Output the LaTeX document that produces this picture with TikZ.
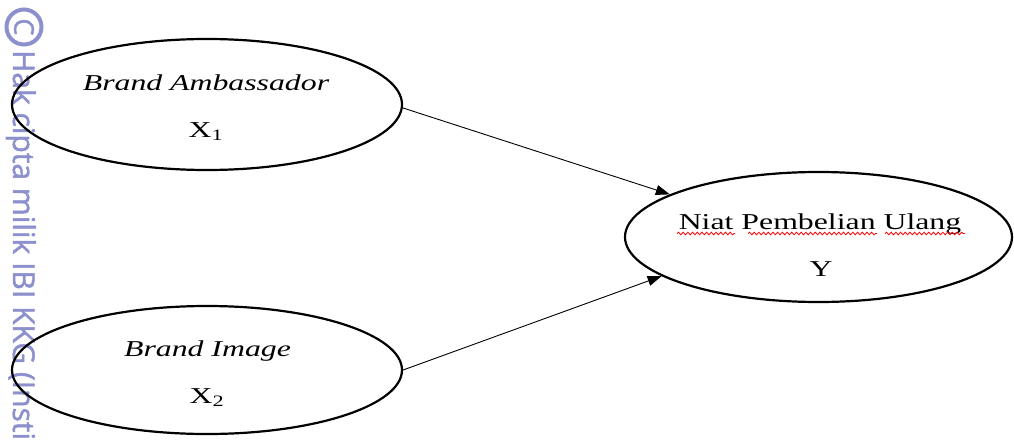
\documentclass[tikz,border=0pt]{standalone}
\usepackage{fontspec}
\setmainfont{Liberation Serif}
\newfontfamily\wmfont{Open Sans}[FakeBold=1.5]
\usetikzlibrary{shapes.geometric,arrows.meta,decorations.pathmorphing}
\definecolor{wm}{RGB}{140,144,205}
\newcommand\stretchtxt[1]{\scalebox{1.4}[1]{#1}}
\begin{document}
\begin{tikzpicture}[x=1pt,y=-1pt,
  latent/.style={draw, ellipse, line width=2.2pt, inner sep=0pt},
  lbl/.style={font=\fontsize{22.7}{27}\selectfont, inner sep=0pt, anchor=base},
  ilbl/.style={font=\fontsize{22.7}{27}\selectfont\itshape, inner sep=0pt, anchor=base},
  pathar/.style={-{Triangle[length=14pt,width=10pt]}, line width=0.9pt},
  spell/.style={draw=red, line width=0.8pt, decorate, decoration={snake, segment length=4.7pt, amplitude=1.3pt}},
  wmtext/.style={font=\fontsize{30}{36}\selectfont\wmfont, text=wm, inner sep=0pt, rotate=-90, anchor=base west}]
\useasboundingbox (0,0) rectangle (1014,439);
% watermark
\draw[wm, line width=4pt] (24,27) circle (17.5pt);
\node[font=\fontsize{27}{30}\selectfont\wmfont, text=wm, inner sep=0pt, rotate=-90] (wmc) at (24,27) {C};
\node[wmtext] (wmt) at (13,50) {Hak cipta milik IBI KKG (Insti};
% ellipses
\node[latent, minimum width=390pt, minimum height=131pt] (e1) at (207,104.5) {};
\node[latent, minimum width=390pt, minimum height=128pt] (e2) at (207,370) {};
\node[latent, minimum width=387pt, minimum height=130pt] (e3) at (818.5,237) {};
% labels
\node[ilbl] (l1a) at (206,90.7) {\stretchtxt{Brand Ambassador}};
\node[lbl] (l1b) at (206,137.3) {\stretchtxt{X\textsubscript{1}}};
\node[ilbl] (l2a) at (207.5,356.7) {\stretchtxt{Brand Image}};
\node[lbl] (l2b) at (207,403.3) {\stretchtxt{X\textsubscript{2}}};
\node[lbl] (l3a) at (820,229.3) {\stretchtxt{Niat Pembelian Ulang}};
\node[lbl] (l3b) at (821,276) {\stretchtxt{Y}};
% spell-check underline
\draw[spell] (677,233.5) -- (735,233.5);
\draw[spell] (748,233.5) -- (877,233.5);
\draw[spell] (885,233.5) -- (965,233.5);
% connectors
\draw[pathar] (e1.-1.6) -- (e3.164.5);
\draw[pathar] (e2.east) -- (e3.194.4);
\end{tikzpicture}
\end{document}
